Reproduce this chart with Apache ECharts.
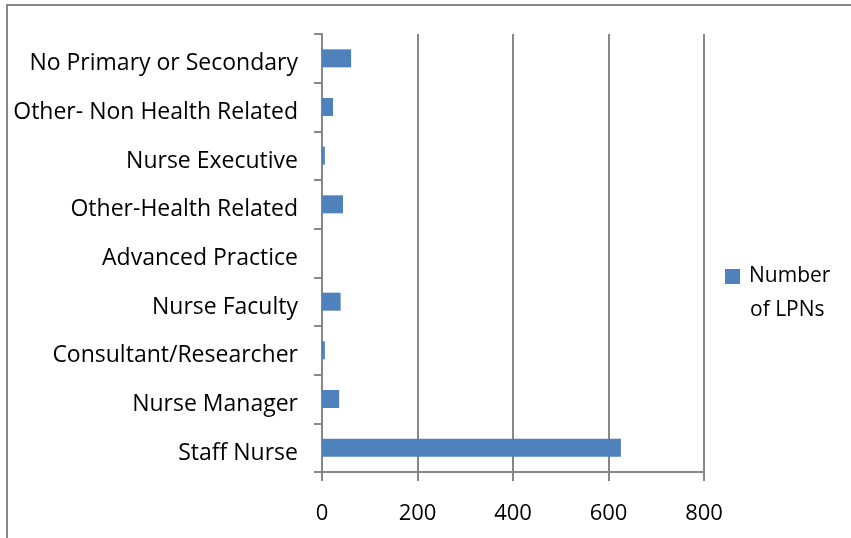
<!DOCTYPE html>
<html>
<head>
<meta charset="utf-8">
<script src="https://cdn.jsdelivr.net/npm/echarts@6/dist/echarts.min.js"></script>
<style>
  html, body { margin: 0; padding: 0; background: #fff; }
  #chart { width: 851px; height: 538px; }
</style>
</head>
<body>
<div id="chart"></div>
<script>
// categories listed bottom to top (echarts puts the first one at the bottom)
var categories = [
    "Staff Nurse",
    "Nurse Manager",
    "Consultant/Researcher",
    "Nurse Faculty",
    "Advanced Practice",
    "Other-Health Related",
    "Nurse Executive",
    "Other- Non Health Related",
    "No Primary or Secondary"
];
var lpnCounts = [626, 36, 6, 39, 0, 44, 6, 23, 61];
var seriesName = "Number of LPNs";
var xTicks = [0, 200, 400, 600, 800];

var font = "'Open Sans', sans-serif";
var gray = "#878787";

var myChart = echarts.init(document.getElementById("chart"));
var option = {
    animation: false,
    textStyle: { fontFamily: font },
    graphic: [{
        type: "rect",
        shape: { x: 7, y: 5, width: 900, height: 600 },
        style: { fill: "none", stroke: gray, lineWidth: 2 }
    }, {
        // second line of the legend label, excel wraps it under the first
        type: "text",
        left: 750,
        top: 300,
        style: { text: "of LPNs", fontFamily: font, fontSize: 21, fill: "#000" }
    }],
    grid: { left: 322, right: 147, top: 34, bottom: 66 },
    legend: {
        data: [seriesName],
        left: 720,
        top: 261,
        itemWidth: 15,
        itemHeight: 15,
        icon: "rect",
        formatter: function () { return "Number"; },
        textStyle: { fontFamily: font, fontSize: 21, color: "#000", padding: [0, 0, 0, 4] }
    },
    xAxis: {
        type: "value",
        min: xTicks[0],
        max: xTicks[xTicks.length - 1],
        interval: 200,
        axisLine: { show: true, lineStyle: { color: gray, width: 2 } },
        axisTick: { show: true, length: 9, lineStyle: { color: gray, width: 2 } },
        axisLabel: { fontSize: 22, color: "#000", margin: 31, fontFamily: font },
        splitLine: { show: true, lineStyle: { color: gray, width: 2 } }
    },
    yAxis: {
        type: "category",
        data: categories,
        axisLine: { show: true, lineStyle: { color: gray, width: 2 } },
        axisTick: { show: true, length: 8, lineStyle: { color: gray, width: 2 } },
        axisLabel: {
            margin: 24,
            // labels sit a little below the bar centre in the original
            formatter: function (v) { return "{c|" + v + "}"; },
            rich: {
                c: { fontSize: 23, color: "#000", fontFamily: font, padding: [11, 0, 0, 0] }
            }
        }
    },
    series: [{
        name: seriesName,
        type: "bar",
        data: lpnCounts,
        barWidth: 18,
        itemStyle: { color: "#4F81BD" }
    }]
};
myChart.setOption(option);
</script>
</body>
</html>
